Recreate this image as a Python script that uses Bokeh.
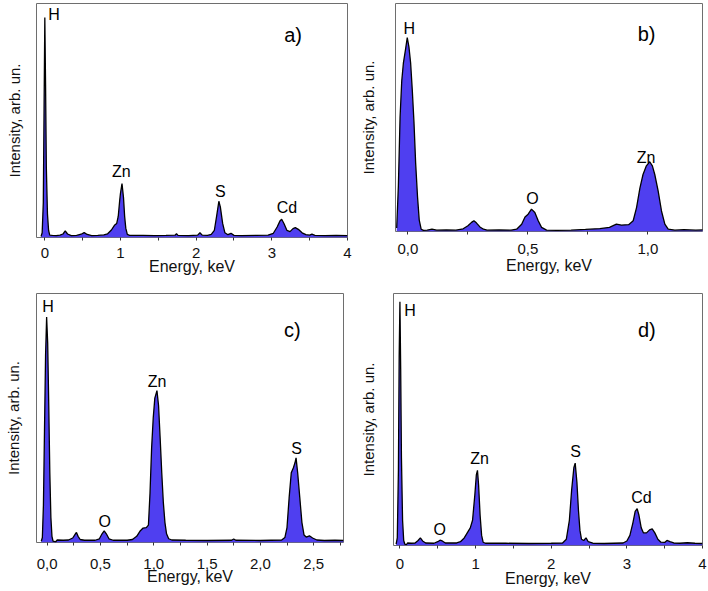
from bokeh.plotting import figure
from bokeh.layouts import row, column
from bokeh.models import Range1d, FixedTicker, CustomJSTickFormatter, ColumnDataSource
from bokeh.core.properties import value
from bokeh.embed import file_html
from bokeh.resources import INLINE

FONT = "Liberation Sans"
FILL = "#4f3ff0"

# ---------------- data (intensity in % of panel height) ----------------
a_energy = [-0.05, -0.035, -0.02, -0.01, 0.0, 0.01, 0.02, 0.035, 0.05, 0.065,
            0.1, 0.15, 0.2, 0.24, 0.27, 0.3, 0.35, 0.42, 0.48, 0.52, 0.56, 0.62,
            0.7, 0.78, 0.83, 0.88, 0.92, 0.95, 0.97, 0.99, 1.0, 1.02, 1.04, 1.055, 1.07, 1.09, 1.12,
            1.3, 1.45, 1.6, 1.72, 1.74, 1.76, 1.9, 2.02, 2.05, 2.08, 2.15,
            2.2, 2.24, 2.27, 2.3, 2.32, 2.35, 2.38, 2.42, 2.46, 2.5, 2.6, 2.8,
            2.95, 3.02, 3.07, 3.11, 3.13, 3.16, 3.2, 3.24, 3.28, 3.31, 3.35, 3.4, 3.45,
            3.5, 3.53, 3.57, 3.7, 3.85, 4.0]
a_intensity = [0.5, 2, 15, 55, 94, 65, 30, 10, 3, 1.0,
               0.9, 0.8, 1.0, 1.5, 2.8, 1.5, 0.8, 0.9, 1.4, 2.1, 1.3, 0.8,
               0.9, 1.1, 1.6, 3.2, 5.2, 6.0, 9, 16, 19, 23, 17, 9, 4, 1.3, 0.9,
               0.9, 0.8, 0.9, 1.0, 1.6, 0.9, 0.8, 1.0, 2.0, 1.0, 0.9,
               1.3, 3, 9, 15.5, 13, 6, 2, 1.2, 1.8, 0.9, 0.8, 0.9,
               1.0, 1.8, 4.5, 7.2, 7.8, 6.0, 3.0, 2.5, 3.8, 4.2, 3.5, 2.0, 1.2,
               1.0, 1.4, 0.9, 0.8, 0.9, 0.8]

b_energy = [-0.047, -0.04, -0.033, -0.026, -0.019, -0.01, -0.003, 0.004, 0.011, 0.018,
            0.025, 0.032, 0.04, 0.047, 0.055, 0.065, 0.08, 0.1, 0.12, 0.16,
            0.2, 0.23, 0.25, 0.265, 0.275, 0.285, 0.3, 0.315, 0.33, 0.38, 0.43,
            0.453, 0.474, 0.488, 0.501, 0.515, 0.529, 0.543, 0.557, 0.578,
            0.62, 0.68, 0.74, 0.8, 0.84, 0.869, 0.89, 0.92,
            0.939, 0.953, 0.967, 0.98, 0.994, 1.008, 1.019, 1.029, 1.043, 1.057,
            1.071, 1.085, 1.113, 1.15, 1.2, 1.23]
b_intensity = [1.5, 20, 50, 66, 74, 80, 85, 81, 74, 62,
               48, 30, 15, 5, 1.0, 0.5, 0.6, 1.0, 0.6, 0.7,
               0.6, 1.2, 2.5, 4.0, 4.7, 3.8, 2.0, 1.0, 0.6, 0.7, 0.6,
               1.0, 3.2, 6.4, 7.6, 9.8, 8.3, 4.7, 1.8, 0.6,
               0.5, 0.6, 0.9, 1.3, 1.8, 3.2, 2.8, 3.0,
               4.7, 10.5, 19, 25, 28.8, 30.6, 28.8, 25, 17.8, 9,
               3.2, 1.0, 0.6, 0.8, 0.6, 0.7]

c_energy = [-0.055, -0.045, -0.035, -0.025, -0.015, -0.005, 0.005, 0.015, 0.025, 0.035,
            0.045, 0.055, 0.08, 0.094, 0.15, 0.2, 0.24, 0.265, 0.275, 0.29, 0.31, 0.35,
            0.45, 0.49, 0.515, 0.535, 0.555, 0.58, 0.62, 0.75, 0.8, 0.84, 0.87, 0.9, 0.93,
            0.95, 0.965, 0.98, 0.995, 1.01, 1.03, 1.045, 1.06, 1.075, 1.09, 1.105, 1.12,
            1.14, 1.17, 1.3, 1.5, 1.73, 1.75, 1.77, 2.0, 2.2, 2.23, 2.25, 2.27, 2.29, 2.31,
            2.325, 2.335, 2.35, 2.37, 2.39, 2.41, 2.43, 2.46, 2.49, 2.53, 2.6, 2.7, 2.78]
c_intensity = [0.5, 2, 15, 45, 75, 90.6, 80, 55, 28, 10,
               2.5, 0.6, 0.3, 1.0, 0.9, 1.0, 1.8, 3.5, 4.0, 2.5, 1.2, 0.9,
               0.9, 1.5, 3.5, 4.7, 3.5, 1.5, 0.9, 0.9, 1.2, 2.5, 4.5, 5.8, 6.0,
               7, 20, 38, 50, 58, 61, 55, 42, 28, 16, 8, 3.5,
               1.5, 1.0, 0.9, 0.8, 0.9, 1.4, 0.9, 0.8, 1.0, 2.0, 6, 18, 28, 30,
               32, 34, 28, 18, 8, 3, 2.2, 2.7, 1.8, 1.0, 0.8, 0.9, 0.8]

d_energy = [-0.05, -0.035, -0.02, -0.01, 0.0, 0.01, 0.02, 0.035, 0.05, 0.065,
            0.085, 0.1, 0.15, 0.2, 0.24, 0.27, 0.3, 0.34, 0.45, 0.5, 0.53, 0.56, 0.6,
            0.75, 0.8, 0.85, 0.9, 0.93, 0.96, 0.99, 1.01, 1.025, 1.04, 1.06, 1.08, 1.1, 1.13,
            1.4, 1.7, 2.0, 2.15, 2.2, 2.24, 2.27, 2.3, 2.317, 2.34, 2.36, 2.38, 2.4, 2.43,
            2.46, 2.49, 2.55, 2.7, 2.95, 3.0, 3.04, 3.08, 3.11, 3.136, 3.16, 3.19, 3.22,
            3.26, 3.3, 3.335, 3.37, 3.41, 3.45, 3.5, 3.53, 3.57, 3.62, 3.7, 3.8, 3.9, 4.0]
d_intensity = [0.5, 3, 30, 75, 96.7, 70, 35, 10, 2, 0.5,
               0.3, 1.0, 0.9, 1.0, 2, 3.0, 1.8, 1.0, 0.9, 1.5, 2.1, 1.8, 1.0,
               1.0, 1.5, 3, 5.5, 7, 10, 20, 28, 29.8, 24, 12, 4, 1.3, 0.9,
               0.9, 0.8, 0.9, 1.0, 2.5, 10, 22, 31, 32.7, 25, 14, 6, 2.5, 2.0,
               3.0, 1.5, 0.9, 0.8, 1.0, 1.8, 4, 9, 13.5, 14.6, 12, 7, 5,
               5, 6.2, 6.6, 5, 2.5, 1.3, 1.2, 2.0, 1.5, 1.0, 0.9, 1.1, 0.9, 0.8]

# peak labels
a_peaks = ["H", "Zn", "S", "Cd"]
a_peak_x = [0.12, 1.01, 2.32, 3.2]
a_peak_y = [95.2, 28.2, 19.6, 12.8]
b_peaks = ["H", "O", "Zn"]
b_peak_x = [0.005, 0.519, 0.9925]
b_peak_y = [89.2, 14.6, 32.5]
c_peaks = ["H", "O", "Zn", "S"]
c_peak_x = [0.0075, 0.539, 1.031, 2.339]
c_peak_y = [94.9, 8.4, 64.7, 37.9]
d_peaks = ["H", "O", "Zn", "S", "Cd"]
d_peak_x = [0.134, 0.525, 1.054, 2.323, 3.193]
d_peak_y = [93.2, 6.3, 34.4, 37.4, 19.2]

panel_names = ["a)", "b)", "c)", "d)"]
panel_x = [3.28, 0.995, 2.30, 3.264]
panel_y = [86.7, 86.7, 85.4, 85.7]

a_ticks = [0, 1, 2, 3, 4]
a_minor = [0.5, 1.5, 2.5, 3.5]
b_ticks = [0.0, 0.5, 1.0]
b_minor = [0.25, 0.75]
c_ticks = [0.0, 0.5, 1.0, 1.5, 2.0, 2.5]
c_minor = [0.25, 0.75, 1.25, 1.75, 2.25, 2.75]
d_ticks = [0, 1, 2, 3, 4]
d_minor = [0.5, 1.5, 2.5, 3.5]


def panel(energy, intensity, names, nx, ny, pname, px, py, xr, ticks, minor, comma,
          fw, fh, bl, br, bt, bb, tick_standoff, title_standoff, ylab_standoff):
    p = figure(frame_width=fw, frame_height=fh, x_range=Range1d(*xr), y_range=Range1d(0, 100),
               output_backend="svg", toolbar_location=None,
               min_border_left=bl, min_border_right=br, min_border_top=bt, min_border_bottom=bb)
    p.grid.visible = False
    p.outline_line_color = "#6e6e6e"
    p.outline_line_width = 1
    p.background_fill_color = "white"
    p.border_fill_color = "white"

    src = ColumnDataSource(dict(x=energy, y=intensity))
    p.varea(x="x", y1=0, y2="y", source=src, fill_color=FILL)
    p.line(x="x", y="y", source=src, line_color="black", line_width=1.3)

    lab = ColumnDataSource(dict(x=nx, y=ny, t=names))
    p.text(x="x", y="y", text="t", source=lab, text_font=value(FONT), text_font_size="16px",
           text_align="center", text_baseline="middle", text_color="black")
    p.text(x=[px], y=[py], text=[pname], text_font=value(FONT), text_font_size="20px",
           text_align="center", text_baseline="middle", text_color="black")

    xa = p.xaxis[0]
    xa.ticker = FixedTicker(ticks=ticks, minor_ticks=minor)
    if comma:
        xa.formatter = CustomJSTickFormatter(code="return tick.toFixed(1).replace('.', ',');")
    xa.axis_line_color = None
    xa.major_tick_in = 0
    xa.major_tick_out = 3
    xa.minor_tick_in = 0
    xa.minor_tick_out = 3
    xa.major_tick_line_color = "#333333"
    xa.minor_tick_line_color = "#333333"
    xa.major_label_text_font = FONT
    xa.major_label_text_font_size = "15px"
    xa.major_label_text_color = "#111111"
    xa.major_label_standoff = tick_standoff
    xa.axis_label = "Energy, keV"
    xa.axis_label_text_font = FONT
    xa.axis_label_text_font_size = "16px"
    xa.axis_label_text_font_style = "normal"
    xa.axis_label_text_color = "#111111"
    xa.axis_label_standoff = title_standoff

    ya = p.yaxis[0]
    ya.ticker = FixedTicker(ticks=[])
    ya.axis_line_color = None
    ya.major_tick_line_color = None
    ya.minor_tick_line_color = None
    ya.axis_label = "Intensity, arb. un."
    ya.axis_label_text_font = FONT
    ya.axis_label_text_font_size = "15px"
    ya.axis_label_text_font_style = "normal"
    ya.axis_label_text_color = "#111111"
    ya.axis_label_standoff = ylab_standoff
    return p


# frame width/height, border left/right/top/bottom, standoffs
pa = panel(a_energy, a_intensity, a_peaks, a_peak_x, a_peak_y, panel_names[0], panel_x[0], panel_y[0],
           (-0.11, 4.0), a_ticks, a_minor, False,
           311, 234, 36, 7, 3, 53, 7, -3, 14)
pb = panel(b_energy, b_intensity, b_peaks, b_peak_x, b_peak_y, panel_names[1], panel_x[1], panel_y[1],
           (-0.052, 1.228), b_ticks, b_minor, True,
           307, 228, 41, 6, 3, 59, 9, 0, 19)
pc = panel(c_energy, c_intensity, c_peaks, c_peak_x, c_peak_y, panel_names[2], panel_x[2], panel_y[2],
           (-0.1, 2.78), c_ticks, c_minor, True,
           307, 249, 36, 11, 3, 49, 13, -4, 15)
pd = panel(d_energy, d_intensity, d_peaks, d_peak_x, d_peak_y, panel_names[3], panel_x[3], panel_y[3],
           (-0.085, 4.0), d_ticks, d_minor, False,
           309, 252, 39, 6, 3, 46, 10, -2, 17)

layout = column(row(pa, pb), row(pc, pd))
open("out.html", "w").write(file_html(layout, INLINE))
